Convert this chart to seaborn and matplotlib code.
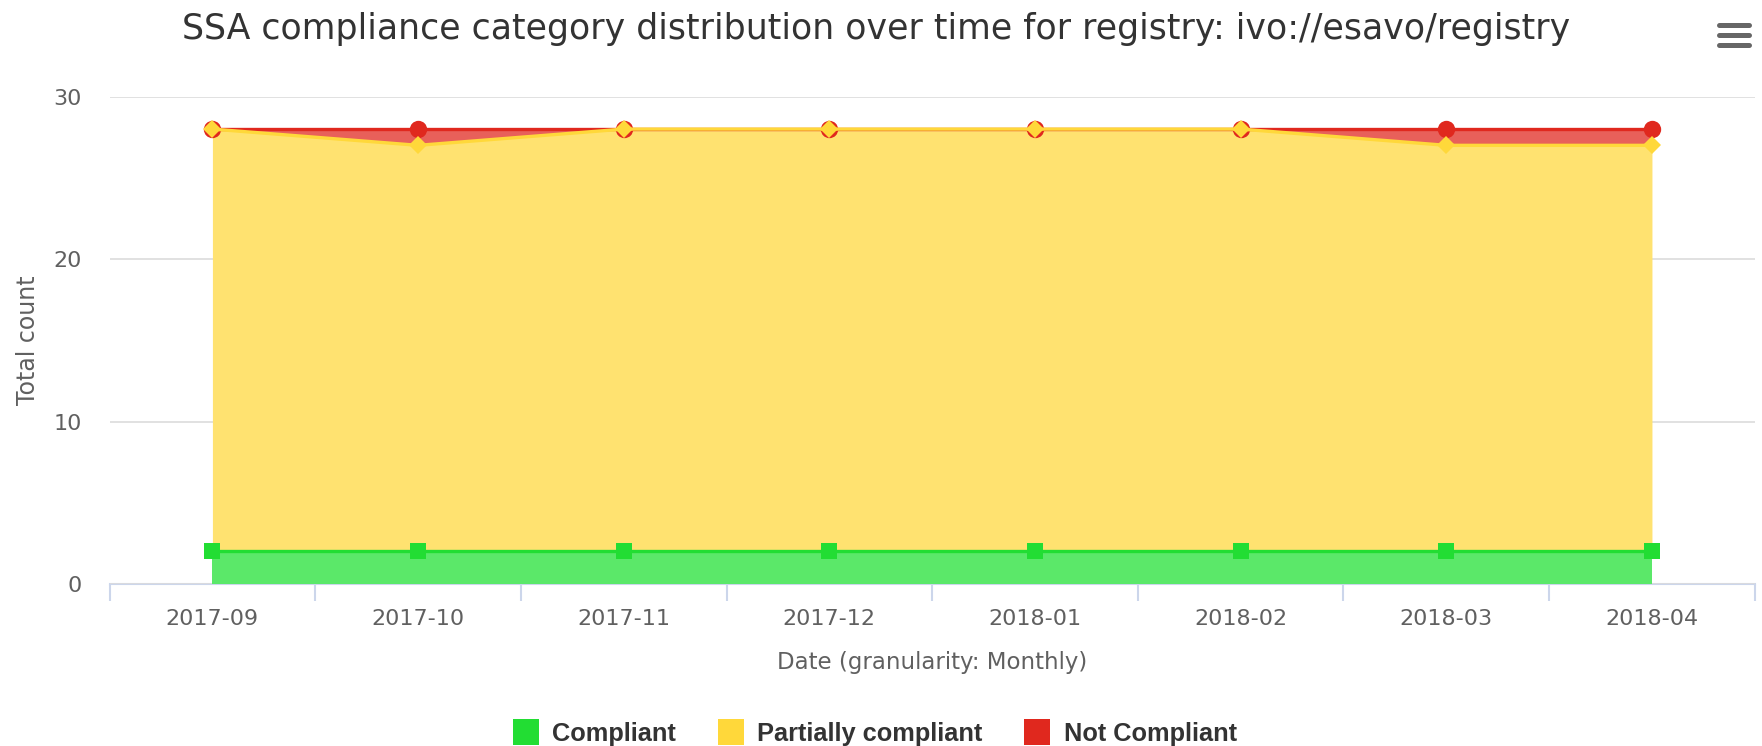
"""
SSA compliance category distribution - stacked area chart
"""

import numpy as np
import pandas as pd
import matplotlib
matplotlib.use('Agg')
import matplotlib.pyplot as plt
from matplotlib.lines import Line2D
import seaborn as sns

# Data
months = ['2017-09', '2017-10', '2017-11', '2017-12',
          '2018-01', '2018-02', '2018-03', '2018-04']
compliant = [2, 2, 2, 2, 2, 2, 2, 2]
partially_compliant = [26, 25, 26, 26, 26, 26, 25, 25]
not_compliant = [0, 1, 0, 0, 0, 0, 1, 1]

series_names = ['Compliant', 'Partially compliant', 'Not Compliant']
line_colors = ['#22dd33', '#ffd83a', '#e0281e']
fill_colors = ['#5be869', '#ffe270', '#e8605a']
marker_shapes = ['s', 'D', 'o']

# Stack cumulative
stack = np.cumsum(np.array([compliant, partially_compliant, not_compliant]), axis=0)
x = np.arange(len(months))

sns.set_style('white')
plt.rcParams['font.family'] = ['DejaVu Sans']

fig = plt.figure(figsize=(17.62, 7.46), dpi=100)
ax = fig.add_axes([0.0622, 0.2172, 0.9337, 0.6533])

# Filled areas
lower = np.zeros(len(months))
for i in range(3):
    ax.fill_between(x, lower, stack[i], color=fill_colors[i], linewidth=0, zorder=1)
    lower = stack[i]

# Lines + markers via seaborn
rows = []
for i, name in enumerate(series_names):
    for j, m in enumerate(months):
        rows.append({'month': j, 'top': stack[i][j], 'series': name})
df = pd.DataFrame(rows)

# draw red first, then yellow, then green so lower markers sit on top
msizes = {'s': 11, 'D': 9, 'o': 12.5}
for i in [2, 1, 0]:
    sub = df[df['series'] == series_names[i]]
    sns.lineplot(data=sub, x='month', y='top', ax=ax, color=line_colors[i],
                 linewidth=2.4, marker=marker_shapes[i],
                 markersize=msizes[marker_shapes[i]],
                 markeredgewidth=0, markerfacecolor=line_colors[i],
                 legend=False, zorder=3, sort=False)

ax.set_xlim(-0.5, len(months) - 0.5)
ax.set_ylim(0, 30)
ax.set_yticks([0, 10, 20, 30])
ax.yaxis.grid(True, color='#dcdcdc', linewidth=1.2)
ax.set_axisbelow(True)
for s in ['top', 'right', 'left']:
    ax.spines[s].set_visible(False)
ax.spines['bottom'].set_color('#ccd6eb')
ax.spines['bottom'].set_linewidth(1.5)
ax.spines['bottom'].set_zorder(0.5)

ax.set_xticks(x)
ax.set_xticklabels(months)
ax.set_xticks(np.arange(-0.5, len(months)), minor=True)
ax.tick_params(axis='x', which='major', bottom=True, length=0, pad=18,
               labelsize=16, labelcolor='#606060')
ax.tick_params(axis='x', which='minor', bottom=True, length=12, width=1.5,
               color='#ccd6eb', direction='out')
ax.tick_params(axis='y', length=0, pad=20, labelsize=16, labelcolor='#606060')

ax.set_xlabel('Date (granularity: Monthly)', fontsize=16.5, color='#606060', labelpad=16)
ax.set_ylabel('Total count', fontsize=17, color='#606060', labelpad=10)

fig.text(0.4975, 0.961, 'SSA compliance category distribution over time for registry: ivo://esavo/registry',
         ha='center', va='center', fontsize=25, color='#333333')

# Legend
handles = [Line2D([], [], linestyle='none', marker='s', markersize=19,
                  markerfacecolor=c, markeredgewidth=0) for c in line_colors]
fig.legend(handles, series_names, loc='center', bbox_to_anchor=(0.497, 0.016),
           ncol=3, frameon=False, handlelength=0.9, handletextpad=0.6,
           columnspacing=1.7,
           prop={'family': 'Liberation Sans', 'weight': 'bold', 'size': 18.3})
for t in fig.legends[0].get_texts():
    t.set_color('#333333')

# Hamburger menu icon
for yy in [25, 35, 45]:
    yf = 1 - yy / 746
    fig.add_artist(Line2D([1719 / 1762, 1749 / 1762], [yf, yf], color='#666666',
                          linewidth=3.6, solid_capstyle='round'))

fig.savefig('out.png', dpi=100)
